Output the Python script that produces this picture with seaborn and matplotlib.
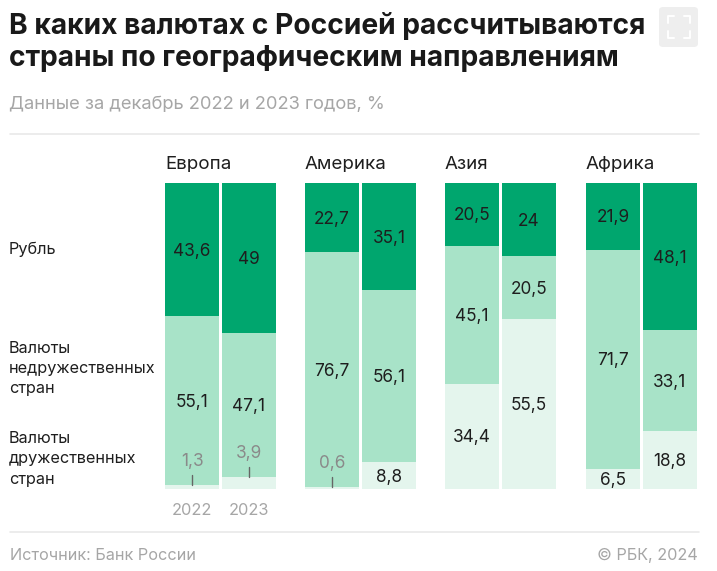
import matplotlib
matplotlib.use("Agg")
import matplotlib.pyplot as plt
from matplotlib.patches import FancyBboxPatch
from matplotlib.lines import Line2D
import pandas as pd
import seaborn as sns

regions = ["Европа", "Америка", "Азия", "Африка"]
years = ["2022", "2023"]
rouble = [[43.6, 49], [22.7, 35.1], [20.5, 24], [21.9, 48.1]]
unfriendly = [[55.1, 47.1], [76.7, 56.1], [45.1, 20.5], [71.7, 33.1]]
friendly = [[1.3, 3.9], [0.6, 8.8], [34.4, 55.5], [6.5, 18.8]]
row_labels = ["Рубль", "Валюты\nнедружественных\nстран", "Валюты\nдружественных\nстран"]

W, H = 717, 571
GREEN_D, GREEN_M, GREEN_L = "#00a66e", "#a8e3c8", "#e4f5ed"
INK, GREY = "#1e1e1e", "#a6a6a6"
sns.set_theme(style="white", rc={"font.family": ["Inter", "DejaVu Sans"]})
plt.rcParams["font.family"] = ["Inter", "DejaVu Sans"]

fig = plt.figure(figsize=(W / 100, H / 100), dpi=100, facecolor="white")


def ftext(x, y, s, **kw):
    kw.setdefault("va", "center")
    fig.text(x / W, 1 - y / H, s, **kw)


def hline(y, x0=10, x1=699):
    fig.add_artist(Line2D([x0 / W, x1 / W], [1 - y / H] * 2, color="#e9e9e9", lw=1.2))


ftext(9, 26, "В каких валютах с Россией рассчитываются", fontsize=20.3, fontweight="bold", color="#191919")
ftext(9, 59, "страны по географическим направлениям", fontsize=20.3, fontweight="bold", color="#191919")
ftext(9, 104.5, "Данные за декабрь 2022 и 2023 годов, %", fontsize=13.2, color=GREY)
hline(134)
hline(532)
ftext(10, 555, "Источник: Банк России", fontsize=11.7, color=GREY)
ftext(698, 555, "© РБК, 2024", fontsize=11.7, color=GREY, ha="right")

fig.add_artist(FancyBboxPatch((659 / W, 1 - 47 / H), 39 / W, 40 / H, boxstyle="round,pad=0,rounding_size=0.006",
                              transform=fig.transFigure, fc="#eeeeee", ec="none"))
for xs, ys in [((668, 668, 674), (23, 16, 16)), ((684, 690, 690), (16, 16, 23)),
               ((668, 668, 674), (31, 38, 38)), ((684, 690, 690), (38, 38, 31))]:
    fig.add_artist(Line2D([x / W for x in xs], [1 - y / H for y in ys], color="white", lw=1.4))

for y, s in zip([249, 368.5, 459], row_labels):
    ftext(9, y, s, fontsize=11.7, color=INK, linespacing=1.42)

lefts = [165, 305, 445, 586]
AW = 111
for i, (region, left) in enumerate(zip(regions, lefts)):
    ax = fig.add_axes([left / W, 1 - 489 / H, AW / W, 306 / H])
    df = pd.DataFrame({"year": years, "r": rouble[i], "u": unfriendly[i], "f": friendly[i]})
    bottom_u = df["f"]
    bottom_r = df["f"] + df["u"]
    kw = dict(data=df, x="year", order=years, width=0.947, ax=ax, linewidth=0, saturation=1)
    sns.barplot(y="f", color=GREEN_L, **kw)
    sns.barplot(y="u", bottom=bottom_u, color=GREEN_M, **kw)
    sns.barplot(y="r", bottom=bottom_r, color=GREEN_D, **kw)
    ax.set_xlim(-0.474, 1.474)
    ax.set_ylim(0, 100)
    ax.axis("off")
    ax.set_xlabel("")
    ax.set_ylabel("")
    ax.text(-0.474, 1.06, region, transform=ax.get_xaxis_transform(), fontsize=13.5, color=INK, va="center", ha="left")

    for j in range(2):
        f, u, r = friendly[i][j], unfriendly[i][j], rouble[i][j]
        fs = 12.4
        for val, c in [(r, f + u + r / 2), (u, f + u / 2)]:
            ax.text(j, c - 0.5, f"{val:g}".replace(".", ","), ha="center", va="center", fontsize=fs, color=INK)
        label = f"{f:g}".replace(".", ",")
        if f < 5:
            ax.text(j, f + 7.8, label, ha="center", va="center", fontsize=fs, color="#8a8a8a")
            ax.plot([j, j], [f, f + 3.2], color="#666666", lw=1)
        else:
            ax.text(j, f / 2 - 0.5, label, ha="center", va="center", fontsize=fs, color=INK)

    if i == 0:
        for j, y in enumerate(years):
            ax.text(j, -6.9, y, ha="center", va="center", fontsize=11.8, color=GREY)

fig.savefig("out.png", dpi=100, facecolor="white")
